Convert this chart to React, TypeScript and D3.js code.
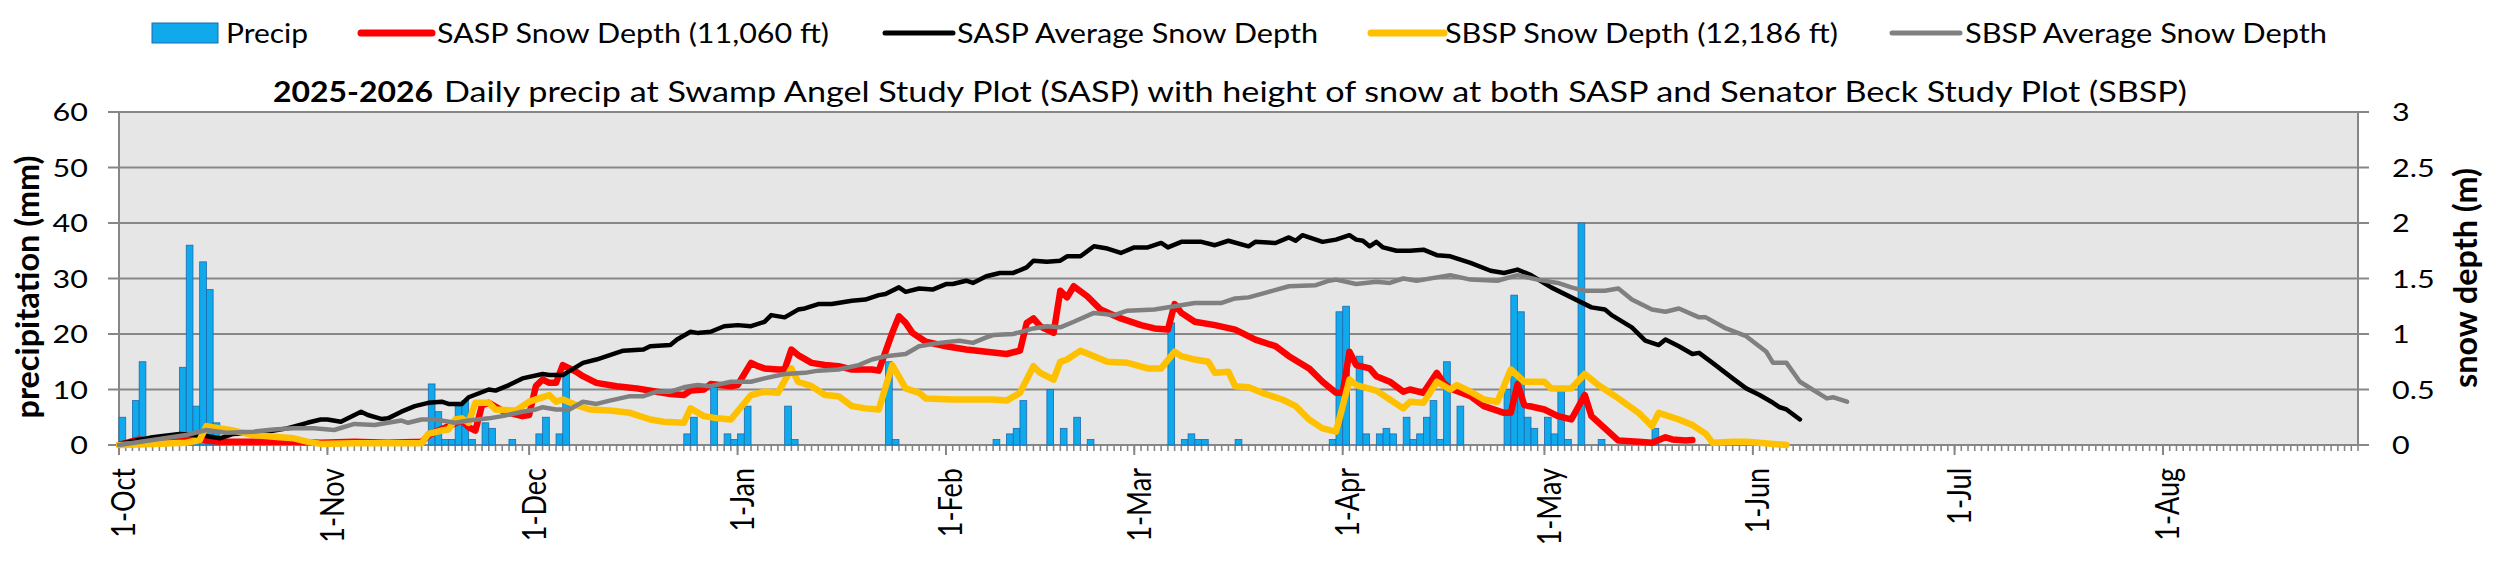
import React from "react";
import * as d3 from "d3";

// ---------- data (day offsets from 1-Oct-2025) ----------
const precipDays = [0, 2, 3, 9, 10, 11, 12, 13, 14, 46, 47, 48, 49, 50, 51, 52, 54, 55, 58, 62, 63, 65, 66, 84, 85, 88, 90, 91, 92, 93, 99, 100, 114, 115, 130, 132, 133, 134, 138, 140, 142, 144, 156, 158, 159, 160, 161, 166, 180, 181, 182, 184, 185, 187, 188, 189, 191, 192, 193, 194, 195, 196, 197, 199, 206, 207, 208, 209, 210, 212, 213, 214, 215, 217, 220, 228];
const precipMm = [5, 8, 15, 14, 36, 7, 33, 28, 4, 11, 6, 1, 1, 7, 8, 1, 4, 3, 1, 2, 5, 2, 13, 2, 5, 11, 2, 1, 2, 7, 7, 1, 15, 1, 1, 2, 3, 8, 10, 3, 5, 1, 22, 1, 2, 1, 1, 1, 1, 24, 25, 16, 2, 2, 3, 2, 5, 1, 2, 5, 8, 1, 15, 7, 10, 27, 24, 5, 3, 5, 2, 10, 1, 40, 1, 3];

const saspDepth: [number, number][] = [
  [0, 0], [3, 0.05], [5, 0.03], [10, 0.045], [12, 0.06], [13, 0.04], [15, 0.03], [20, 0.03], [26, 0.03], [30, 0.02], [35, 0.03], [40, 0.02], [45, 0.03],
  [46, 0.08], [47, 0.12], [49, 0.17], [51, 0.22], [52, 0.16], [53, 0.13], [54, 0.36], [55, 0.38], [57, 0.31], [58, 0.29], [60, 0.26], [61, 0.27],
  [62, 0.53], [63, 0.59], [64, 0.56], [65, 0.56], [66, 0.72], [68, 0.66], [69, 0.62], [71, 0.56], [74, 0.53], [77, 0.51], [80, 0.48], [82, 0.46],
  [84, 0.45], [85, 0.49], [87, 0.5], [88, 0.55], [91, 0.53], [92, 0.54], [94, 0.74], [95, 0.71], [96, 0.69], [98, 0.68], [99, 0.68], [100, 0.86],
  [101, 0.81], [103, 0.74], [105, 0.72], [107, 0.71], [109, 0.68], [112, 0.68], [113, 0.67], [115, 1.01], [116, 1.16], [117, 1.1], [118, 1.01],
  [120, 0.93], [123, 0.89], [126, 0.86], [129, 0.84], [132, 0.82], [134, 0.85], [135, 1.1], [136, 1.14], [137, 1.07], [139, 1.01], [140, 1.39],
  [141, 1.33], [142, 1.43], [144, 1.34], [146, 1.22], [149, 1.14], [152, 1.08], [154, 1.05], [156, 1.04], [157, 1.27], [158, 1.19], [160, 1.11],
  [163, 1.08], [166, 1.04], [167, 1.01], [169, 0.95], [172, 0.89], [174, 0.8], [177, 0.69], [179, 0.57], [181, 0.47], [182, 0.47], [183, 0.84],
  [184, 0.72], [186, 0.69], [187, 0.62], [189, 0.57], [191, 0.48], [192, 0.5], [194, 0.47], [196, 0.65], [197, 0.56], [198, 0.51], [201, 0.44],
  [203, 0.35], [206, 0.29], [207, 0.29], [208, 0.55], [209, 0.36], [212, 0.32], [214, 0.26], [216, 0.23], [218, 0.45], [219, 0.26], [221, 0.15],
  [223, 0.04], [226, 0.03], [228, 0.02], [230, 0.07], [231, 0.05], [233, 0.04], [234, 0.045],
];

const saspAverage: [number, number][] = [
  [0, 0.01], [5, 0.07], [9, 0.1], [12, 0.09], [15, 0.06], [17, 0.1], [22, 0.12], [25, 0.15], [28, 0.2], [30, 0.23], [31, 0.23], [33, 0.21],
  [36, 0.3], [37, 0.27], [39, 0.235], [40, 0.24], [42, 0.3], [44, 0.35], [46, 0.38], [48, 0.39], [49, 0.37], [51, 0.37], [52, 0.43], [55, 0.5],
  [56, 0.49], [58, 0.54], [60, 0.6], [63, 0.64], [64, 0.63], [66, 0.63], [69, 0.74], [71, 0.77], [74, 0.83], [75, 0.85], [78, 0.86], [79, 0.89],
  [82, 0.9], [83, 0.95], [85, 1.02], [86, 1.01], [88, 1.02], [90, 1.07], [92, 1.08], [94, 1.07], [96, 1.11], [97, 1.17], [99, 1.15], [101, 1.22],
  [102, 1.23], [104, 1.27], [106, 1.27], [109, 1.3], [111, 1.31], [113, 1.35], [114, 1.36], [116, 1.42], [117, 1.38], [119, 1.41], [121, 1.4],
  [123, 1.45], [124, 1.45], [126, 1.48], [127, 1.46], [129, 1.52], [131, 1.55], [133, 1.55], [135, 1.6], [136, 1.66], [138, 1.65], [140, 1.66],
  [141, 1.7], [143, 1.7], [145, 1.79], [147, 1.77], [149, 1.73], [151, 1.78], [153, 1.78], [155, 1.82], [156, 1.78], [158, 1.83], [161, 1.83],
  [163, 1.8], [165, 1.84], [168, 1.79], [169, 1.83], [172, 1.82], [174, 1.87], [175, 1.84], [176, 1.89], [179, 1.83], [181, 1.85], [183, 1.89],
  [184, 1.85], [185, 1.84], [186, 1.79], [187, 1.83], [188, 1.78], [190, 1.75], [192, 1.75], [194, 1.76], [196, 1.71], [198, 1.7], [201, 1.64],
  [204, 1.57], [206, 1.55], [208, 1.58], [210, 1.53], [213, 1.42], [216, 1.33], [219, 1.24], [221, 1.22], [222, 1.17], [225, 1.06], [227, 0.94],
  [229, 0.9], [230, 0.95], [232, 0.89], [234, 0.82], [235, 0.83], [237, 0.74], [240, 0.6], [242, 0.51], [244, 0.45], [246, 0.38], [247, 0.34],
  [248, 0.32], [250, 0.23],
];

const sbspDepth: [number, number][] = [
  [0, 0], [5, 0.01], [10, 0.02], [12, 0.045], [13, 0.17], [15, 0.15], [17, 0.13], [20, 0.09], [23, 0.075], [26, 0.06], [28, 0.03], [30, 0.01],
  [35, 0.015], [40, 0.015], [45, 0.015], [46, 0.1], [48, 0.13], [49, 0.14], [50, 0.23], [51, 0.24], [52, 0.2], [53, 0.38], [55, 0.38], [56, 0.32],
  [59, 0.31], [61, 0.39], [64, 0.45], [65, 0.39], [66, 0.41], [68, 0.36], [70, 0.32], [73, 0.31], [76, 0.29], [79, 0.23], [81, 0.21], [84, 0.2],
  [85, 0.33], [87, 0.26], [89, 0.24], [91, 0.23], [94, 0.45], [96, 0.48], [98, 0.47], [100, 0.69], [101, 0.57], [103, 0.53], [105, 0.45],
  [107, 0.44], [109, 0.35], [111, 0.33], [113, 0.32], [115, 0.72], [117, 0.51], [119, 0.47], [120, 0.42], [124, 0.41], [127, 0.41], [130, 0.41],
  [132, 0.4], [134, 0.47], [136, 0.71], [137, 0.65], [139, 0.59], [140, 0.75], [141, 0.77], [143, 0.85], [145, 0.8], [147, 0.75], [150, 0.74],
  [153, 0.69], [155, 0.69], [157, 0.84], [158, 0.8], [160, 0.77], [162, 0.75], [163, 0.65], [165, 0.66], [166, 0.53], [168, 0.52], [170, 0.47],
  [173, 0.41], [175, 0.35], [177, 0.23], [179, 0.15], [181, 0.12], [182, 0.35], [183, 0.59], [184, 0.54], [187, 0.49], [189, 0.41], [191, 0.33],
  [192, 0.39], [194, 0.38], [196, 0.57], [198, 0.5], [199, 0.54], [201, 0.48], [203, 0.41], [205, 0.39], [207, 0.68], [209, 0.57], [212, 0.57],
  [213, 0.51], [216, 0.51], [218, 0.64], [220, 0.54], [223, 0.42], [226, 0.29], [228, 0.17], [229, 0.29], [232, 0.23], [234, 0.18], [236, 0.1],
  [237, 0.02], [240, 0.03], [242, 0.03], [244, 0.02], [246, 0.01], [248, 0],
];

const sbspAverage: [number, number][] = [
  [0, 0], [5, 0.045], [10, 0.09], [13, 0.135], [16, 0.11], [20, 0.12], [23, 0.14], [26, 0.15], [29, 0.15], [32, 0.135], [35, 0.19], [38, 0.18],
  [40, 0.2], [42, 0.22], [43, 0.2], [45, 0.23], [47, 0.23], [50, 0.2], [52, 0.22], [55, 0.24], [57, 0.26], [60, 0.3], [62, 0.32], [63, 0.34],
  [65, 0.32], [67, 0.32], [69, 0.39], [71, 0.37], [73, 0.4], [76, 0.44], [78, 0.44], [80, 0.48], [82, 0.48], [84, 0.52], [86, 0.54], [88, 0.53],
  [91, 0.57], [94, 0.57], [96, 0.6], [99, 0.64], [102, 0.65], [104, 0.67], [107, 0.68], [110, 0.72], [112, 0.77], [114, 0.8], [117, 0.82],
  [119, 0.89], [122, 0.92], [125, 0.94], [127, 0.92], [129, 0.97], [130, 0.99], [133, 1.0], [136, 1.05], [138, 1.07], [140, 1.06], [142, 1.11],
  [145, 1.19], [148, 1.17], [150, 1.21], [154, 1.22], [157, 1.25], [160, 1.28], [164, 1.28], [166, 1.32], [168, 1.33], [171, 1.38], [174, 1.43],
  [178, 1.44], [180, 1.48], [181, 1.49], [184, 1.45], [187, 1.47], [189, 1.46], [191, 1.5], [193, 1.48], [196, 1.51], [198, 1.53], [201, 1.49],
  [205, 1.48], [208, 1.53], [211, 1.49], [214, 1.46], [216, 1.42], [218, 1.39], [221, 1.39], [223, 1.41], [225, 1.31], [228, 1.22], [230, 1.2],
  [232, 1.23], [235, 1.15], [236, 1.15], [239, 1.05], [242, 0.98], [245, 0.84], [246, 0.74], [248, 0.74], [250, 0.57], [254, 0.42], [255, 0.43],
  [257, 0.39],
];

const precipTicks = [0, 10, 20, 30, 40, 50, 60];
const depthTicks = [0, 0.5, 1, 1.5, 2, 2.5, 3];
const depthTickLabels = ["0", "0.5", "1", "1.5", "2", "2.5", "3"];

const legendLabels = ["Precip", "SASP Snow Depth (11,060 ft)", "SASP Average Snow Depth", "SBSP Snow Depth (12,186 ft)", "SBSP Average Snow Depth"];
const titleBold = "2025-2026";
const titleRest = "Daily precip at Swamp Angel Study Plot (SASP) with height of snow at both SASP and Senator Beck Study Plot (SBSP)";

// ---------- layout ----------
const W = 2500, H = 564;
const L = 119, R = 2358, T = 112, B = 445;
const FONT = "Lato, 'Open Sans', sans-serif";
const GRID = "#878787";

const start = new Date(Date.UTC(2025, 9, 1));
const end = d3.utcDay.offset(start, 333);
const dt = (d: number) => d3.utcDay.offset(start, d);

export default function App() {
  const x = d3.scaleUtc().domain([start, end]).range([L, R]);
  const yL = d3.scaleLinear().domain([0, 60]).range([B, T]);
  const yR = d3.scaleLinear().domain([0, 3]).range([B, T]);
  const line = d3.line<[number, number]>().x((d) => x(dt(d[0]))).y((d) => yR(d[1]));

  const days = d3.utcDay.range(start, d3.utcDay.offset(end, 1));
  const months = d3.utcMonth.range(start, end);
  const fmt = d3.utcFormat("%-d-%b");

  const series = [
    { data: saspDepth, color: "#FF0000", w: 6.5 },
    { data: saspAverage, color: "#000000", w: 4.5 },
    { data: sbspDepth, color: "#FFC000", w: 6.5 },
    { data: sbspAverage, color: "#808080", w: 4.5 },
  ];

  const legendLines = [
    { x1: 361, x2: 432, tx: 437, tw: 392, color: "#FF0000", w: 7 },
    { x1: 885, x2: 953, tx: 957, tw: 361, color: "#000000", w: 5 },
    { x1: 1371, x2: 1444, tx: 1445, tw: 393, color: "#FFC000", w: 7 },
    { x1: 1892, x2: 1960, tx: 1965, tw: 362, color: "#808080", w: 5 },
  ];

  return (
    <div style={{ position: "absolute", left: 0, top: 0, background: "#fff" }}>
      <svg width={W} height={H} style={{ display: "block", fontFamily: FONT }}>
        <rect x={0} y={0} width={W} height={H} fill="#ffffff" />
        {/* plot background */}
        <rect x={L} y={T} width={R - L} height={B - T} fill="#e6e6e6" />
        {/* gridlines */}
        {precipTicks.map((t) => (
          <line key={"g" + t} x1={L - 11} x2={R + 11} y1={yL(t)} y2={yL(t)} stroke={GRID} strokeWidth={2.2} />
        ))}
        <line x1={L} x2={L} y1={T} y2={B} stroke={GRID} strokeWidth={2} />
        <line x1={R} x2={R} y1={T} y2={B} stroke={GRID} strokeWidth={2} />
        {/* x ticks */}
        {days.map((d, i) => (
          <line key={"d" + i} x1={x(d)} x2={x(d)} y1={B} y2={B + 6} stroke={GRID} strokeWidth={1.6} />
        ))}
        {months.map((m, i) => (
          <line key={"m" + i} x1={x(m)} x2={x(m)} y1={B} y2={B + 10} stroke={GRID} strokeWidth={2} />
        ))}
        {/* precip bars */}
        {precipDays.map((d, i) => (
          <rect
            key={"b" + i}
            x={x(dt(d))}
            y={yL(precipMm[i])}
            width={x(dt(d + 1)) - x(dt(d))}
            height={yL(0) - yL(precipMm[i])}
            fill="#0FA9EC"
            stroke="#1F6AAE"
            strokeWidth={0.8}
          />
        ))}
        {/* lines */}
        {series.map((s, i) => (
          <path key={"s" + i} d={line(s.data) || ""} fill="none" stroke={s.color} strokeWidth={s.w} strokeLinejoin="round" strokeLinecap="round" />
        ))}
        {/* left tick labels */}
        {precipTicks.map((t) => (
          <text key={"lt" + t} transform={`translate(88,${yL(t)}) scale(1.22,1)`} textAnchor="end" dy="0.36em" fontSize={25} fill="#000">
            {t}
          </text>
        ))}
        {/* right tick labels */}
        {depthTicks.map((t, i) => (
          <text key={"rt" + t} transform={`translate(2392,${yR(t)}) scale(1.22,1)`} textAnchor="start" dy="0.36em" fontSize={25} fill="#000">
            {depthTickLabels[i]}
          </text>
        ))}
        {/* x labels */}
        {months.map((m, i) => (
          <text key={"xl" + i} transform={`translate(${x(m) + 4.5},468) scale(1.22,1) rotate(-90)`} textAnchor="end" dy="0.36em" fontSize={27} fill="#000">
            {fmt(m)}
          </text>
        ))}
        {/* axis titles */}
        <text transform="translate(39,287) scale(1.22,1) rotate(-90)" textAnchor="middle" fontSize={27} fontWeight="bold" textLength={263} lengthAdjust="spacingAndGlyphs" fill="#000">
          precipitation (mm)
        </text>
        <text transform="translate(2477,278) scale(1.22,1) rotate(-90)" textAnchor="middle" fontSize={27} fontWeight="bold" textLength={220} lengthAdjust="spacingAndGlyphs" fill="#000">
          snow depth (m)
        </text>
        {/* title */}
        <text x={273} y={102} fontSize={28} fontWeight="bold" textLength={160} lengthAdjust="spacingAndGlyphs" fill="#000">
          {titleBold}
        </text>
        <text x={444} y={102} fontSize={28} textLength={1743} lengthAdjust="spacingAndGlyphs" fill="#000">
          {titleRest}
        </text>
        {/* legend */}
        <rect x={152} y={23} width={66} height={20} fill="#0FA9EC" stroke="#1F6AAE" strokeWidth={1} />
        <text x={226} y={43} fontSize={27} textLength={82} lengthAdjust="spacingAndGlyphs" fill="#000">
          {legendLabels[0]}
        </text>
        {legendLines.map((l, i) => (
          <g key={"lg" + i}>
            <line x1={l.x1} x2={l.x2} y1={33} y2={33} stroke={l.color} strokeWidth={l.w} strokeLinecap="round" />
            <text x={l.tx} y={43} fontSize={27} textLength={l.tw} lengthAdjust="spacingAndGlyphs" fill="#000">
              {legendLabels[i + 1]}
            </text>
          </g>
        ))}
      </svg>
    </div>
  );
}
